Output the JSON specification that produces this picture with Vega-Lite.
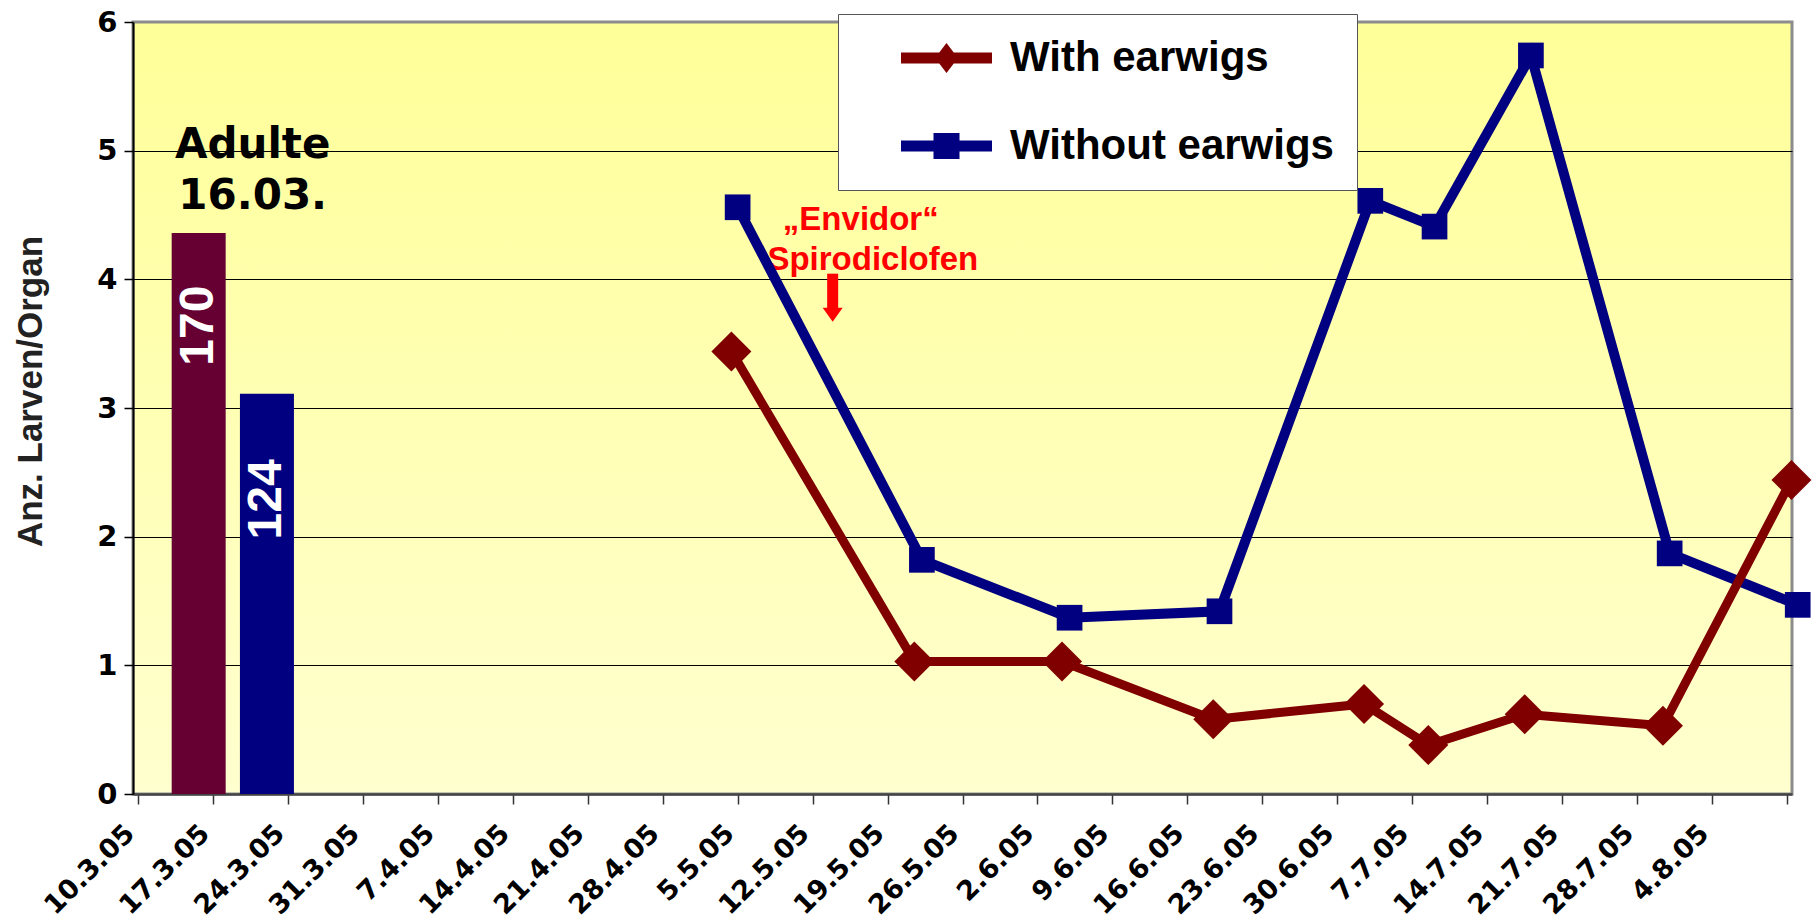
{
  "$schema": "https://vega.github.io/schema/vega-lite/v6.json",
  "width": 1659,
  "height": 772,
  "autosize": {"type": "none"},
  "padding": {"left": 133, "top": 22, "right": 24, "bottom": 127},
  "background": "white",
  "config": {"font": "Liberation Sans"},
  "view": {
    "fill": {"gradient": "linear", "x1": 0, "y1": 0, "x2": 0, "y2": 1,
      "stops": [{"offset": 0, "color": "#FFFF99"}, {"offset": 1, "color": "#FFFFCF"}]},
    "stroke": "#8c8c8c",
    "strokeWidth": 3
  },
  "datasets": {
    "bars": [
      {"date": "2005-03-15T16:00:00Z", "value": 4.36, "series": "With earwigs"},
      {"date": "2005-03-22T01:00:00Z", "value": 3.11, "series": "Without earwigs"}
    ],
    "lines": [
      {"date": "2005-05-05T00:00:00Z", "value": 4.56, "series": "Without earwigs"},
      {"date": "2005-05-22T05:00:00Z", "value": 1.82, "series": "Without earwigs"},
      {"date": "2005-06-05T00:00:00Z", "value": 1.37, "series": "Without earwigs"},
      {"date": "2005-06-19T00:00:00Z", "value": 1.42, "series": "Without earwigs"},
      {"date": "2005-07-03T02:00:00Z", "value": 4.61, "series": "Without earwigs"},
      {"date": "2005-07-09T02:00:00Z", "value": 4.41, "series": "Without earwigs"},
      {"date": "2005-07-18T02:00:00Z", "value": 5.74, "series": "Without earwigs"},
      {"date": "2005-07-31T01:00:00Z", "value": 1.87, "series": "Without earwigs"},
      {"date": "2005-08-12T00:00:00Z", "value": 1.47, "series": "Without earwigs"},
      {"date": "2005-05-04T10:00:00Z", "value": 3.44, "series": "With earwigs"},
      {"date": "2005-05-21T12:00:00Z", "value": 1.03, "series": "With earwigs"},
      {"date": "2005-06-04T07:00:00Z", "value": 1.03, "series": "With earwigs"},
      {"date": "2005-06-18T10:00:00Z", "value": 0.58, "series": "With earwigs"},
      {"date": "2005-07-02T12:00:00Z", "value": 0.70, "series": "With earwigs"},
      {"date": "2005-07-08T12:00:00Z", "value": 0.38, "series": "With earwigs"},
      {"date": "2005-07-17T12:00:00Z", "value": 0.62, "series": "With earwigs"},
      {"date": "2005-07-30T10:00:00Z", "value": 0.53, "series": "With earwigs"},
      {"date": "2005-08-11T10:00:00Z", "value": 2.44, "series": "With earwigs"}
    ]
  },
  "encoding": {
    "x": {
      "field": "date", "type": "temporal", "title": null,
      "scale": {"type": "utc", "nice": false,
        "domain": [{"year": 2005, "month": 3, "date": 10, "utc": true}, {"year": 2005, "month": 8, "date": 11, "utc": true}]},
      "axis": {
        "values": [
          {"year": 2005, "month": 3, "date": 10, "utc": true},
          {"year": 2005, "month": 3, "date": 17, "utc": true},
          {"year": 2005, "month": 3, "date": 24, "utc": true},
          {"year": 2005, "month": 3, "date": 31, "utc": true},
          {"year": 2005, "month": 4, "date": 7, "utc": true},
          {"year": 2005, "month": 4, "date": 14, "utc": true},
          {"year": 2005, "month": 4, "date": 21, "utc": true},
          {"year": 2005, "month": 4, "date": 28, "utc": true},
          {"year": 2005, "month": 5, "date": 5, "utc": true},
          {"year": 2005, "month": 5, "date": 12, "utc": true},
          {"year": 2005, "month": 5, "date": 19, "utc": true},
          {"year": 2005, "month": 5, "date": 26, "utc": true},
          {"year": 2005, "month": 6, "date": 2, "utc": true},
          {"year": 2005, "month": 6, "date": 9, "utc": true},
          {"year": 2005, "month": 6, "date": 16, "utc": true},
          {"year": 2005, "month": 6, "date": 23, "utc": true},
          {"year": 2005, "month": 6, "date": 30, "utc": true},
          {"year": 2005, "month": 7, "date": 7, "utc": true},
          {"year": 2005, "month": 7, "date": 14, "utc": true},
          {"year": 2005, "month": 7, "date": 21, "utc": true},
          {"year": 2005, "month": 7, "date": 28, "utc": true},
          {"year": 2005, "month": 8, "date": 4, "utc": true},
          {"year": 2005, "month": 8, "date": 11, "utc": true}
        ],
        "format": "%-d.%-m.%y",
        "formatType": "utc",
        "labelExpr": "datum.value > 1123500000000 ? '' : utcFormat(datum.value, '%-d.%-m.%y')",
        "grid": false,
        "domainColor": "#444444",
        "domainWidth": 2.5,
        "tickColor": "#333333",
        "tickSize": 10,
        "tickWidth": 1.5,
        "labelAngle": -45,
        "labelAlign": "right",
        "labelBaseline": "middle",
        "labelFont": "DejaVu Sans",
        "labelFontSize": 27,
        "labelFontWeight": "bold",
        "labelColor": "black",
        "labelPadding": 25,
        "labelOffset": -8,
        "labelOverlap": false,
        "labelFlush": false,
        "labelBound": false
      }
    },
    "y": {
      "field": "value", "type": "quantitative", "title": "Anz. Larven/Organ",
      "scale": {"domain": [0, 6], "nice": false},
      "axis": {
        "values": [0, 1, 2, 3, 4, 5, 6],
        "format": "d",
        "grid": true,
        "gridColor": {"condition": {"test": "datum.value === 0 || datum.value === 6", "value": "transparent"}, "value": "black"},
        "gridWidth": 1,
        "gridOpacity": 1,
        "domainColor": "black",
        "domainWidth": 2,
        "tickColor": "black",
        "tickSize": 9,
        "tickWidth": 1.5,
        "labelFont": "DejaVu Sans",
        "labelFontSize": 29,
        "labelFontWeight": "bold",
        "labelColor": "black",
        "labelPadding": 7,
        "titleFont": "Liberation Sans",
        "titleFontSize": 35,
        "titleFontWeight": "bold",
        "titleColor": "#222222",
        "titleAngle": 270,
        "titleAlign": "center",
        "titleBaseline": "middle",
        "titleX": -103,
        "titleY": 369
      }
    }
  },
  "layer": [
    {
      "data": {"name": "bars"},
      "mark": {"type": "bar", "size": 54},
      "encoding": {
        "color": {"condition": {"test": "datum.series === 'With earwigs'", "value": "#660033"}, "value": "#000080"}
      }
    },
    {
      "data": {"values": [
        {"date": "2005-03-15T16:00:00Z", "value": 3.64, "label": "170"},
        {"date": "2005-03-22T01:00:00Z", "value": 2.29, "label": "124"}
      ]},
      "mark": {"type": "text", "angle": 270, "align": "center", "baseline": "middle", "font": "Liberation Sans", "fontSize": 48, "fontWeight": "bold", "color": "white"},
      "encoding": {"text": {"field": "label"}}
    },
    {
      "data": {"values": [
        {"date": "2005-03-20T17:00:00Z", "value": 4.94, "label": "Adulte"},
        {"date": "2005-03-20T17:00:00Z", "value": 4.55, "label": "16.03."}
      ]},
      "mark": {"type": "text", "align": "center", "baseline": "alphabetic", "font": "DejaVu Sans", "fontSize": 42, "fontWeight": "bold", "color": "black"},
      "encoding": {"text": {"field": "label"}}
    },
    {
      "data": {"values": [
        {"date": "2005-05-16T12:00:00Z", "value": 4.385, "label": "„Envidor“"},
        {"date": "2005-05-17T15:00:00Z", "value": 4.074, "label": "Spirodiclofen"}
      ]},
      "mark": {"type": "text", "align": "center", "baseline": "alphabetic", "font": "Liberation Sans", "fontSize": 33, "fontWeight": "bold", "color": "#FF0000"},
      "encoding": {"text": {"field": "label"}}
    },
    {
      "data": {"values": [{"date": "2005-05-13T21:00:00Z", "value": 4.044, "bottom": 3.77}]},
      "mark": {"type": "rule", "color": "#FF0000", "strokeWidth": 11, "strokeCap": "butt"},
      "encoding": {"y2": {"field": "bottom"}}
    },
    {
      "data": {"values": [{"date": "2005-05-13T21:00:00Z", "value": 3.724}]},
      "mark": {"type": "point", "shape": "M-1,-0.7L1,-0.7L0,0.7Z", "size": 400, "filled": true, "opacity": 1, "color": "#FF0000", "strokeWidth": 0},
      "encoding": {}
    },
    {
      "data": {"name": "lines"},
      "transform": [{"filter": "datum.series === 'Without earwigs'"}],
      "mark": {"type": "line", "strokeJoin": "miter", "color": "#000080", "strokeWidth": 10},
      "encoding": {}
    },
    {
      "data": {"name": "lines"},
      "transform": [{"filter": "datum.series === 'With earwigs'"}],
      "mark": {"type": "line", "strokeJoin": "miter", "color": "#800000", "strokeWidth": 9},
      "encoding": {}
    },
    {
      "data": {"name": "lines"},
      "transform": [{"filter": "datum.series === 'Without earwigs'"}],
      "mark": {"type": "point", "shape": "square", "size": 660, "filled": true, "opacity": 1, "strokeWidth": 0, "color": "#000080"},
      "encoding": {}
    },
    {
      "data": {"name": "lines"},
      "transform": [{"filter": "datum.series === 'With earwigs'"}],
      "mark": {"type": "point", "shape": "diamond", "size": 1600, "filled": true, "opacity": 1, "strokeWidth": 0, "color": "#800000"},
      "encoding": {}
    },
    {
      "data": {"name": "lines"},
      "transform": [{"filter": "false"}],
      "mark": {"type": "point", "filled": true, "opacity": 1, "strokeWidth": 0},
      "encoding": {
        "color": {
          "field": "series", "type": "nominal",
          "scale": {"domain": ["With earwigs", "Without earwigs"], "range": ["#800000", "#000080"]},
          "legend": {
            "orient": "none", "legendX": 705, "legendY": -8, "title": null,
            "fillColor": "white", "strokeColor": "#555555", "padding": 23,
            "symbolSize": 676, "symbolOffset": 64.5, "labelOffset": 42.5, "rowPadding": 46,
            "labelFont": "Liberation Sans", "labelFontSize": 42, "labelFontWeight": "bold",
            "labelColor": "black", "labelLimit": 600, "symbolStrokeWidth": 0, "symbolOpacity": 1
          }
        },
        "shape": {
          "field": "series", "type": "nominal",
          "scale": {"domain": ["With earwigs", "Without earwigs"],
            "range": ["M-3.5,-0.42H3.5V0.42H-3.5Z M0,-1.15L0.88,0L0,1.15L-0.88,0Z", "M-3.5,-0.42H3.5V0.42H-3.5Z M-1,-1H1V1H-1Z"]},
          "legend": {
            "orient": "none", "legendX": 705, "legendY": -8, "title": null,
            "fillColor": "white", "strokeColor": "#555555", "padding": 23,
            "symbolSize": 676, "symbolOffset": 64.5, "labelOffset": 42.5, "rowPadding": 46,
            "labelFont": "Liberation Sans", "labelFontSize": 42, "labelFontWeight": "bold",
            "labelColor": "black", "labelLimit": 600, "symbolStrokeWidth": 0, "symbolOpacity": 1
          }
        }
      }
    }
  ]
}
